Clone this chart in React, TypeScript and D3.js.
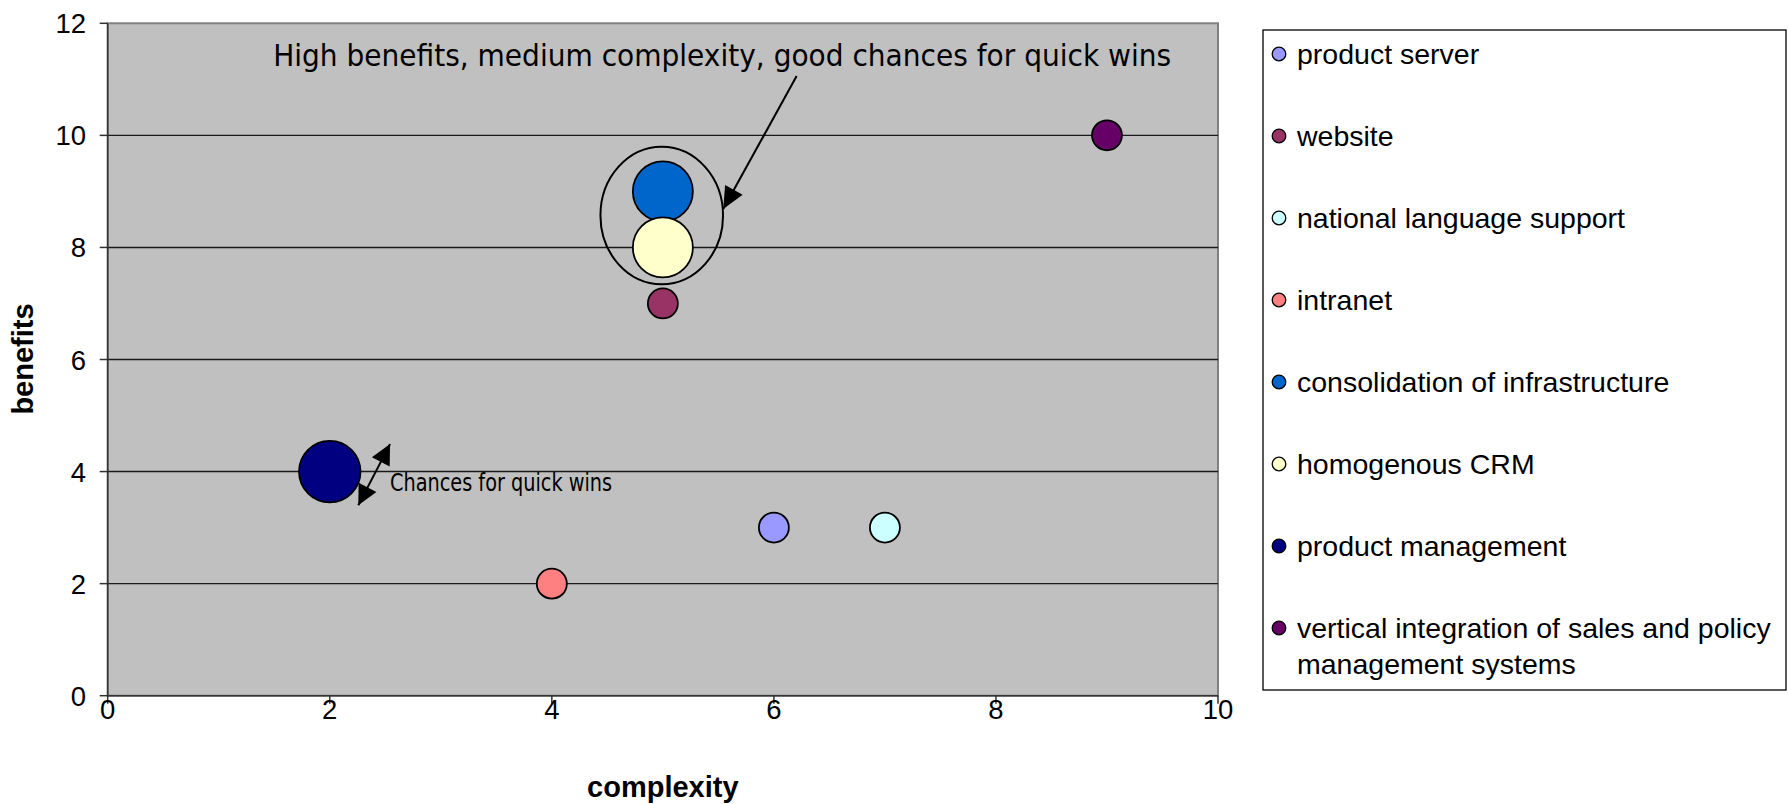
import React from "react";
import * as d3 from "d3";

const seriesNames = [
  "product server",
  "website",
  "national language support",
  "intranet",
  "consolidation of infrastructure",
  "homogenous CRM",
  "product management",
  "vertical integration of sales and policy management systems",
];
const complexity = [6, 5, 7, 4, 5, 5, 2, 9];
const benefits = [3, 7, 3, 2, 9, 8, 4, 10];
const bubbleSize = [1, 1, 1, 1, 4, 4, 4.2, 1];
const colors = ["#9999FF", "#993366", "#CCFFFF", "#FF8080", "#0066CC", "#FFFFCC", "#000080", "#660066"];
const xTicks = [0, 2, 4, 6, 8, 10];
const yTicks = [0, 2, 4, 6, 8, 10, 12];

// annotations in data coordinates
const bigNote = "High benefits, medium complexity, good chances for quick wins";
const bigNotePos = [1.49, 11.23];
const bigArrow = [[6.205, 11.06], [5.544, 8.684]];
const groupEllipse = { cx: 4.99, cy: 8.57, rx: 0.552, ry: 1.226 };
const smallNote = "Chances for quick wins";
const smallNotePos = [2.543, 3.65];
const smallArrow = [[2.257, 3.4], [2.543, 4.49]];

const W = 1788;
const H = 804;
const plot = { left: 107.7, right: 1218, top: 23.3, bottom: 695.7 };
const legend = { x: 1263, y: 30, w: 523, h: 660 };

function arrowHead(x1: number, y1: number, x2: number, y2: number, len: number, half: number) {
  const dx = x2 - x1, dy = y2 - y1;
  const d = Math.hypot(dx, dy);
  const ux = dx / d, uy = dy / d;
  const bx = x2 - ux * len, by = y2 - uy * len;
  return `M${x2},${y2}L${bx - uy * half},${by + ux * half}L${bx + uy * half},${by - ux * half}Z`;
}

export default function App() {
  const x = d3.scaleLinear().domain([0, 10]).range([plot.left, plot.right]);
  const y = d3.scaleLinear().domain([0, 12]).range([plot.bottom, plot.top]);
  const r = d3.scaleSqrt().domain([0, 4]).range([0, 30]);
  const font = "'Liberation Sans', Arial, sans-serif";

  const ba = bigArrow.map(([a, b]) => [x(a), y(b)]);
  const sa = smallArrow.map(([a, b]) => [x(a), y(b)]);

  return (
    <svg width={W} height={H} style={{ position: "fixed", left: 0, top: 0, background: "#fff" }} fontFamily={font}>
      <rect x={plot.left} y={plot.top} width={plot.right - plot.left} height={plot.bottom - plot.top} fill="#C0C0C0" stroke="#808080" strokeWidth={2} />
      {yTicks.filter((t) => t > 0 && t < 12).map((t) => (
        <line key={"g" + t} x1={plot.left} x2={plot.right} y1={y(t)} y2={y(t)} stroke="#1a1a1a" strokeWidth={1.4} />
      ))}
      <line x1={plot.left} x2={plot.left} y1={plot.top} y2={plot.bottom} stroke="#333" strokeWidth={1.5} />
      <line x1={plot.left} x2={plot.right} y1={plot.bottom} y2={plot.bottom} stroke="#333" strokeWidth={1.5} />
      {yTicks.map((t) => (
        <g key={"y" + t}>
          <line x1={plot.left - 8} x2={plot.left} y1={y(t)} y2={y(t)} stroke="#333" strokeWidth={1.5} />
          <text x={86} y={y(t) + 10} textAnchor="end" fontSize={27.5}>{t}</text>
        </g>
      ))}
      {xTicks.map((t) => (
        <g key={"x" + t}>
          <line x1={x(t)} x2={x(t)} y1={plot.bottom} y2={plot.bottom + 8} stroke="#333" strokeWidth={1.5} />
          <text x={x(t)} y={719} textAnchor="middle" fontSize={27.5}>{t}</text>
        </g>
      ))}
      <text transform={`translate(33,359) rotate(-90)`} textAnchor="middle" fontSize={29} fontWeight="bold">benefits</text>
      <text x={(plot.left + plot.right) / 2} y={797} textAnchor="middle" fontSize={29} fontWeight="bold">complexity</text>

      {seriesNames.map((n, i) => (
        <circle key={n} cx={x(complexity[i])} cy={y(benefits[i])} r={r(bubbleSize[i])} fill={colors[i]} stroke="#000" strokeWidth={1.8} />
      ))}

      <ellipse cx={x(groupEllipse.cx)} cy={y(groupEllipse.cy)} rx={x(groupEllipse.rx) - x(0)} ry={y(0) - y(groupEllipse.ry)} fill="none" stroke="#000" strokeWidth={2} />
      <line x1={ba[0][0]} y1={ba[0][1]} x2={ba[1][0]} y2={ba[1][1]} stroke="#000" strokeWidth={2} />
      <path d={arrowHead(ba[0][0], ba[0][1], ba[1][0], ba[1][1], 22, 10)} fill="#000" />
      <text x={x(bigNotePos[0])} y={y(bigNotePos[1])} fontSize={31} fontFamily="'DejaVu Sans', Verdana, sans-serif" textLength={898} lengthAdjust="spacingAndGlyphs" fill="#000">{bigNote}</text>

      <line x1={sa[0][0]} y1={sa[0][1]} x2={sa[1][0]} y2={sa[1][1]} stroke="#000" strokeWidth={2} />
      <path d={arrowHead(sa[0][0], sa[0][1], sa[1][0], sa[1][1], 20, 10)} fill="#000" />
      <path d={arrowHead(sa[1][0], sa[1][1], sa[0][0], sa[0][1], 20, 10)} fill="#000" />
      <text x={x(smallNotePos[0])} y={y(smallNotePos[1])} fontSize={24} fontFamily="'Liberation Sans Narrow', 'DejaVu Sans Condensed', Arial, sans-serif" textLength={222} lengthAdjust="spacingAndGlyphs" fill="#000">{smallNote}</text>

      <rect x={legend.x} y={legend.y} width={legend.w} height={legend.h} fill="#fff" stroke="#000" strokeWidth={1.3} />
      {seriesNames.map((n, i) => {
        const cy = 54 + i * 82;
        const lines = i === 7 ? ["vertical integration of sales and policy", "management systems"] : [n];
        return (
          <g key={"l" + n}>
            <circle cx={1279} cy={cy} r={6.8} fill={colors[i]} stroke="#000" strokeWidth={1.3} />
            {lines.map((ln, k) => (
              <text key={k} x={1297} y={cy + 10 + k * 36} fontSize={28.5}>{ln}</text>
            ))}
          </g>
        );
      })}
    </svg>
  );
}
